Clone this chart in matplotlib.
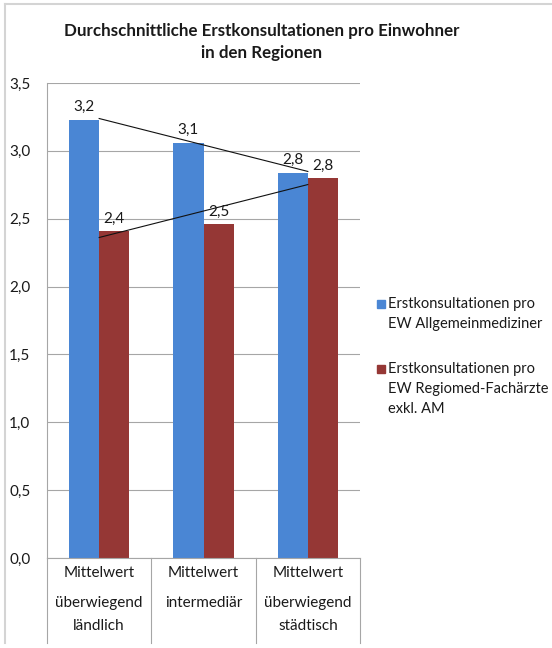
import numpy as np
import matplotlib
matplotlib.use("Agg")
import matplotlib.pyplot as plt
from matplotlib.patches import Rectangle
from matplotlib.lines import Line2D
import matplotlib.transforms as mtransforms

plt.rcParams['font.family'] = ['Lato', 'DejaVu Sans']

# ---- data ----
title = "Durchschnittliche Erstkonsultationen pro Einwohner\nin den Regionen"
category_heads = ["Mittelwert", "Mittelwert", "Mittelwert"]
category_tails = ["überwiegend\nländlich", "intermediär", "überwiegend\nstädtisch"]
allgemeinmediziner = [3.23, 3.06, 2.84]
fachaerzte = [2.41, 2.46, 2.80]
series_names = ["Erstkonsultationen pro\nEW Allgemeinmediziner",
                "Erstkonsultationen pro\nEW Regiomed-Fachärzte\nexkl. AM"]
y_ticks = [0.0, 0.5, 1.0, 1.5, 2.0, 2.5, 3.0, 3.5]

# ---- style ----
BLUE = "#4a86d4"
RED = "#953735"
GRID = "#a6a6a6"
TXT = "#1a1a1a"
W, H = 552, 648
FS = 11.0


def fx(px):
    return px / W


def fy(py):
    return 1 - py / H


fig = plt.figure(figsize=(W / 100, H / 100), dpi=100)
fig.patch.set_facecolor("white")

ax = fig.add_axes([fx(47), fy(558), fx(360) - fx(47), fy(83) - fy(558)])
ax.set_xlim(0.5, len(category_heads) + 0.5)
ax.set_ylim(y_ticks[0], y_ticks[-1])

x = np.arange(1, len(category_heads) + 1)
bw = 0.29
series = [allgemeinmediziner, fachaerzte]
colors = [BLUE, RED]
offsets = [-bw / 2, bw / 2]
for vals, col, off in zip(series, colors, offsets):
    ax.bar(x + off, vals, width=bw, color=col, zorder=2)
    for xi, v in zip(x, vals):
        ax.annotate(f"{v:.1f}".replace(".", ","), (xi + off, v),
                    xytext=(0, 6), textcoords="offset points",
                    ha="center", va="baseline", fontsize=FS, color=TXT,
                    zorder=4)
    # linear trend line across the category centres
    k, d = np.polyfit(x, vals, 1)
    xt = np.array([x[0], x[-1]])
    ax.plot(xt, k * xt + d, color="#111111", lw=0.8, zorder=3)

ax.set_yticks(y_ticks)
ax.set_yticklabels([f"{t:.1f}".replace(".", ",") for t in y_ticks],
                   fontsize=FS, color=TXT)
ax.tick_params(axis="y", length=0, pad=12)
ax.set_xticks([])
ax.yaxis.grid(True, color=GRID, lw=0.8)
ax.set_axisbelow(True)
for s in ["top", "right"]:
    ax.spines[s].set_visible(False)
for s in ["left", "bottom"]:
    ax.spines[s].set_color(GRID)
    ax.spines[s].set_linewidth(0.8)

# category labels and separators below the axis
bt = mtransforms.blended_transform_factory(ax.transData, fig.transFigure)
for xi, head, tail in zip(x, category_heads, category_tails):
    fig.text(xi, fy(573), head, transform=bt, ha="center", va="center",
             fontsize=FS, color=TXT)
    for j, line in enumerate(tail.split("\n")):
        fig.text(xi, fy(603 + 23 * j), line, transform=bt, ha="center",
                 va="center", fontsize=FS, color=TXT)
for b in np.arange(0.5, len(category_heads) + 1, 1.0):
    fig.add_artist(Line2D([b, b], [fy(558), fy(643)], transform=bt,
                          color=GRID, lw=0.8))

# title
fig.text(fx(262), fy(42), title, ha="center", va="center", fontsize=12.2,
         fontweight="bold", color=TXT, linespacing=1.45)

# legend
legend_rows = [304, 369]
for name, col, row in zip(series_names, colors, legend_rows):
    fig.add_artist(Rectangle((fx(377), fy(row + 4)), fx(8), fy(0) - fy(8),
                             transform=fig.transFigure, color=col))
    for i, line in enumerate(name.split("\n")):
        fig.text(fx(388), fy(row + 20 * i), line, ha="left", va="center",
                 fontsize=10.5, color=TXT)

# outer frame
fig.add_artist(Line2D([fx(5), fx(552)], [fy(4), fy(4)], transform=fig.transFigure,
                      color="#d4d4d4", lw=1.5))
fig.add_artist(Line2D([fx(5), fx(5)], [fy(4), fy(643)], transform=fig.transFigure,
                      color="#d4d4d4", lw=1.5))

fig.savefig("out.png", dpi=100)
